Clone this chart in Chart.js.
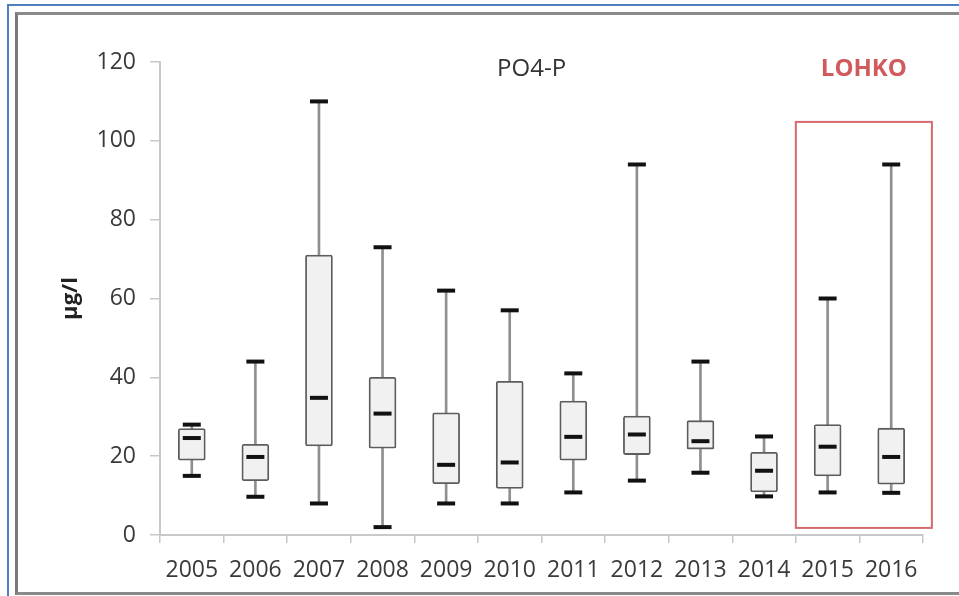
<!DOCTYPE html>
<html>
<head>
<meta charset="utf-8">
<script src="https://cdn.jsdelivr.net/npm/chart.js@4"></script>
<style>
  html, body { margin: 0; padding: 0; background: #fff; overflow: hidden; }
  #wrap { position: relative; width: 959px; height: 596px; overflow: hidden; }
  #chart { position: absolute; left: 0; top: 0; }
  .frame-blue { position: absolute; left: 7px; top: 4px; width: 990px; height: 620px;
    border-left: 2px solid #4f7fc0; border-top: 2px solid #4f7fc0; }
  .frame-gray { position: absolute; left: 15px; top: 12px; width: 990px; height: 577px;
    border-left: 3px solid #7a7a7a; border-top: 3px solid #8a8a8a; border-bottom: 3px solid #8a8a8a; }
</style>
</head>
<body>
<div id="wrap">
  <canvas id="chart" width="959" height="596"></canvas>
  <div class="frame-blue"></div>
  <div class="frame-gray"></div>
</div>
<script>
  // years on the x axis
  const years = ['2005', '2006', '2007', '2008', '2009', '2010', '2011', '2012', '2013', '2014', '2015', '2016'];

  // box plot statistics, µg/l
  const minValues    = [15, 9.7, 8, 2, 8, 8, 10.8, 13.8, 15.8, 9.8, 10.8, 10.7];
  const q1Values     = [19, 13.8, 22.6, 22, 13, 11.8, 19, 20.4, 21.8, 10.9, 15, 12.9];
  const medianValues = [24.6, 19.8, 34.8, 30.8, 17.8, 18.4, 24.9, 25.5, 23.8, 16.3, 22.4, 19.8];
  const q3Values     = [27, 23, 71, 40, 31, 39, 34, 30.2, 29, 21, 28, 27.1];
  const maxValues    = [28, 44, 110, 73, 62, 57, 41, 94, 44, 25, 60, 94];

  // y axis ticks
  const yMin = 0;
  const yMax = 120;
  const yStep = 20;

  // highlighted years (red frame): index range and value range
  const highlightX = [9.5, 11.64];
  const highlightY = [1.8, 104.8];

  const whiskerData = years.map((_, i) => [minValues[i], maxValues[i]]);
  const boxData = years.map((_, i) => [q1Values[i], q3Values[i]]);

  function markerSet(label, values) {
    return {
      type: 'line',
      label: label,
      data: values,
      showLine: false,
      pointStyle: 'line',
      pointRadius: 9,
      pointHoverRadius: 9,
      pointBorderWidth: 4,
      pointBorderColor: '#111',
      borderColor: '#111',
      order: 1
    };
  }

  // red frame + text labels, placed from the scales
  const annotations = {
    id: 'annotations',
    afterDatasetsDraw(chart) {
      const { ctx, scales: { x, y }, chartArea } = chart;
      ctx.save();

      const left = x.getPixelForValue(highlightX[0]);
      const right = x.getPixelForValue(highlightX[1]);
      const top = y.getPixelForValue(highlightY[1]);
      const bottom = y.getPixelForValue(highlightY[0]);
      ctx.strokeStyle = '#d66a6c';
      ctx.lineWidth = 2;
      ctx.strokeRect(left, top, right - left, bottom - top);

      ctx.textAlign = 'center';
      ctx.textBaseline = 'middle';
      ctx.fillStyle = '#333';
      ctx.font = '24px "Open Sans"';
      ctx.fillText('PO4-P', chartArea.left + chartArea.width * 0.487, chartArea.top + 7);

      ctx.fillStyle = '#d05a5c';
      ctx.font = 'bold 24px "Open Sans"';
      ctx.fillText('LOHKO', (left + right) / 2, chartArea.top + 7);
      ctx.restore();
    }
  };

  new Chart(document.getElementById('chart'), {
    type: 'bar',
    data: {
      labels: years,
      datasets: [
        {
          label: 'whisker',
          data: whiskerData,
          grouped: false,
          barThickness: 2,
          backgroundColor: '#8f8f8f',
          borderWidth: 0,
          order: 3
        },
        {
          label: 'box',
          data: boxData,
          grouped: false,
          barThickness: 27,
          backgroundColor: '#f1f1f1',
          borderColor: '#5c5c5c',
          borderWidth: 1.8,
          borderSkipped: false,
          borderRadius: 2,
          order: 2
        },
        markerSet('median', medianValues),
        markerSet('max', maxValues),
        markerSet('min', minValues)
      ]
    },
    options: {
      responsive: false,
      animation: false,
      layout: { padding: { left: 0, right: 36, top: 62, bottom: 0 } },
      plugins: {
        legend: { display: false },
        tooltip: { enabled: false }
      },
      scales: {
        x: {
          offset: true,
          afterFit: s => { s.height = 61; },
          grid: {
            offset: true,
            drawOnChartArea: false,
            drawTicks: true,
            tickLength: 8,
            color: '#c8c8c8',
            lineWidth: 1.5
          },
          border: { color: '#c8c8c8', width: 2 },
          ticks: {
            color: '#3a3a3a',
            padding: 14,
            maxRotation: 0,
            autoSkip: false,
            font: { family: 'Open Sans', size: 23 }
          }
        },
        y: {
          min: yMin,
          max: yMax,
          afterFit: s => { s.width = 160; },
          grid: {
            drawOnChartArea: false,
            tickLength: 10,
            color: '#c8c8c8',
            lineWidth: 1.5
          },
          border: { color: '#c8c8c8', width: 2 },
          ticks: {
            stepSize: yStep,
            color: '#3a3a3a',
            padding: 14,
            font: { family: 'Open Sans', size: 23 }
          },
          title: {
            display: true,
            text: 'µg/l',
            color: '#222',
            padding: { top: 58, bottom: 0 },
            font: { family: 'Open Sans', size: 22, weight: 'bold' }
          }
        }
      }
    },
    plugins: [annotations]
  });
</script>
</body>
</html>
